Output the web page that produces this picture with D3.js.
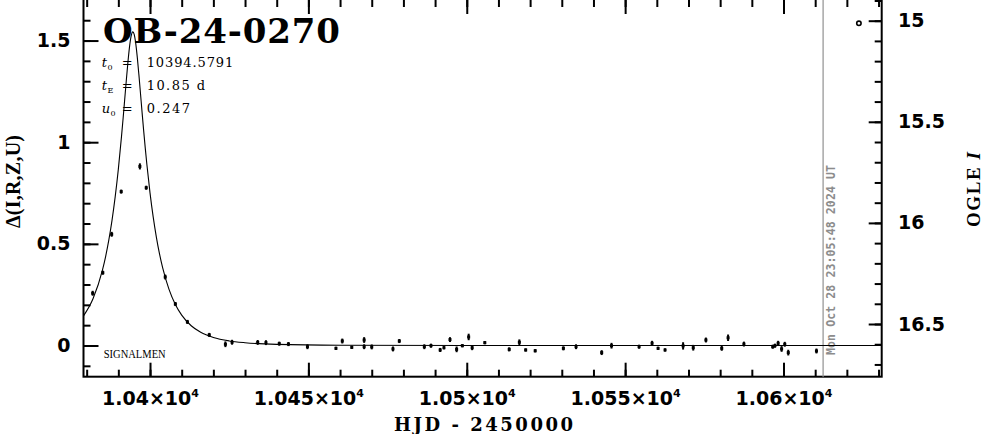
<!DOCTYPE html>
<html><head><meta charset="utf-8">
<script src="https://cdn.jsdelivr.net/npm/d3@7"></script>
<style>html,body{margin:0;padding:0;background:#fff;} svg{display:block}</style>
</head><body><svg id="c" width="986" height="434"></svg>
<script>
// ---- data ----
const hjd = [10381.9,10385.1,10387.9,10390.9,10396.8,10398.8,10404.8,10408.0,10411.8,10418.7,
  10423.8,10425.9,10434.0,10436.6,10440.8,10443.7,10449.7,10458.7,10460.7,10463.7,
  10467.6,10467.6,10470.0,10476.7,10478.7,10486.6,10488.7,10491.6,10492.8,10494.7,
  10496.8,10498.6,10500.6,10501.7,10505.7,10513.4,10516.6,10518.6,10521.6,10530.5,
  10534.5,10542.6,10545.7,10554.4,10558.5,10560.4,10562.6,10568.3,10571.5,10575.5,
  10580.5,10582.5,10587.5,10596.6,10597.3,10598.3,10599.4,10600.4,10601.5,10610.4];
const dmag = [0.257,0.358,0.547,0.757,0.881,0.776,0.337,0.204,0.116,0.052,
  0.006,0.016,0.015,0.014,0.009,0.007,-0.006,-0.014,0.022,-0.009,
  0.027,-0.006,-0.007,-0.017,0.022,-0.006,-0.001,-0.022,-0.011,0.029,
  -0.019,-0.001,0.042,-0.011,0.014,-0.019,0.016,-0.022,-0.026,-0.014,
  -0.006,-0.035,-0.001,-0.006,0.011,-0.014,-0.022,-0.002,-0.011,0.027,
  -0.014,0.038,0.007,-0.006,-0.001,0.011,-0.017,0.006,-0.035,-0.027];
const dmagErr = [0.012,0.010,0.012,0.010,0.015,0.010,0.012,0.010,0.010,0.010,
  0.014,0.012,0.012,0.012,0.010,0.010,0.012,0.008,0.012,0.008,
  0.014,0.012,0.012,0.012,0.010,0.012,0.010,0.010,0.008,0.012,
  0.014,0.008,0.016,0.012,0.008,0.010,0.014,0.008,0.008,0.010,
  0.012,0.012,0.014,0.010,0.012,0.008,0.008,0.018,0.014,0.012,
  0.012,0.016,0.012,0.010,0.010,0.012,0.014,0.012,0.014,0.012];
// model curve samples (t, delta mag)
const modelT = [10379.0,10382,10385,10386,10387,10388,10389,10390,10391,10391.5,10392,10392.5,10393,10393.5,
  10394,10394.58,10395,10395.5,10396,10396.5,10397,10397.5,10398,10398.5,10399,10400,10401,10402,10403,
  10404,10406,10408,10410,10413,10416,10420,10425,10430,10440,10460,10500,10631];
const modelD = [0.1457,0.2297,0.3717,0.4388,0.5191,0.6154,0.7308,0.8678,1.0284,1.1168,1.2086,1.3012,1.3891,1.4650,
  1.5190,1.5427,1.5300,1.4849,1.4149,1.3298,1.2380,1.1455,1.0559,0.9709,0.8917,0.7508,0.6323,0.5332,0.4505,
  0.3815,0.2758,0.2016,0.1491,0.0971,0.0649,0.0395,0.0225,0.0136,0.0057,0.0015,0.0002,0.0000];
const ogleT = [10623.8];
const ogleI = [15.013];
const nowT = [10612.5];
const nowLabel = "Mon Oct 28 23:05:48 2024 UT";
const xMajor = [10400,10450,10500,10550,10600];
const xMantissa = ["1.04","1.045","1.05","1.055","1.06"];
const yLeftMajor = [0,0.5,1,1.5];
const yLeftLabels = ["0","0.5","1","1.5"];
const yRightMajor = [15,15.5,16,16.5];
const yRightLabels = ["15","15.5","16","16.5"];
const title = "OB-24-0270";
const params = [["t","0","10394.5791"],["t","E","10.85 d"],["u","0","0.247"]];

// ---- layout ----
const X0 = 83.5, X1 = 881.7, Y0 = -1, Y1 = 376.7;
const svg = d3.select("#c");
const x = d3.scaleLinear().domain([10379.0, 10631.0]).range([X0, X1]);
const y = d3.scaleLinear().domain([-0.1535, 1.7044]).range([Y1, Y0]);
const yR = d3.scaleLinear().domain([16.7606, 14.8927]).range([Y1, Y0]);

const tickFont = "'DejaVu Sans', sans-serif";
function styleAxis(g){
  g.select(".domain").remove();
  g.selectAll(".tick line").attr("stroke","#000").attr("stroke-width",2);
  g.selectAll(".tick text").attr("fill","#000").attr("font-family",tickFont)
    .attr("font-weight","bold").attr("font-size",19);
}
const minorX = d3.range(10380, 10631, 10);
const minorY = d3.range(-0.1, 1.65, 0.1);
const minorYR = d3.range(14.9, 16.75, 0.1);

// bottom
svg.append("g").attr("transform",`translate(0,${Y1})`)
  .call(d3.axisBottom(x).tickValues(minorX).tickSize(-7).tickFormat("")).call(styleAxis);
const gb = svg.append("g").attr("transform",`translate(0,${Y1})`)
  .call(d3.axisBottom(x).tickValues(xMajor).tickSize(-14).tickPadding(0)).call(styleAxis);
gb.selectAll(".tick text").each(function(d,i){
  const t = d3.select(this).text(null).attr("y",28.3).attr("dy",0);
  t.append("tspan").text(xMantissa[i] + "×10");
  t.append("tspan").attr("dy",-8).attr("font-size",11).text("4");
});
// top
svg.append("g").attr("transform",`translate(0,${Y0})`)
  .call(d3.axisTop(x).tickValues(minorX).tickSize(-8).tickFormat("")).call(styleAxis);
svg.append("g").attr("transform",`translate(0,${Y0})`)
  .call(d3.axisTop(x).tickValues(xMajor).tickSize(-15).tickFormat("")).call(styleAxis);
// left
svg.append("g").attr("transform",`translate(${X0},0)`)
  .call(d3.axisLeft(y).tickValues(minorY).tickSize(-7).tickFormat("")).call(styleAxis);
svg.append("g").attr("transform",`translate(${X0},0)`)
  .call(d3.axisLeft(y).tickValues(yLeftMajor).tickSize(-15).tickPadding(13)
    .tickFormat((d,i)=>yLeftLabels[i])).call(styleAxis);
// right
svg.append("g").attr("transform",`translate(${X1},0)`)
  .call(d3.axisRight(yR).tickValues(minorYR).tickSize(-7).tickFormat("")).call(styleAxis);
svg.append("g").attr("transform",`translate(${X1},0)`)
  .call(d3.axisRight(yR).tickValues(yRightMajor).tickSize(-13).tickPadding(16.3)
    .tickFormat((d,i)=>yRightLabels[i])).call(styleAxis);

// frame
svg.append("rect").attr("x",X0).attr("y",Y0).attr("width",X1-X0).attr("height",Y1-Y0)
  .attr("fill","none").attr("stroke","#000").attr("stroke-width",2);

// now line
svg.selectAll(".now").data(nowT).enter().append("line")
  .attr("x1",d=>x(d)).attr("x2",d=>x(d)).attr("y1",Y0).attr("y2",Y1)
  .attr("stroke","#999").attr("stroke-width",1.3);
svg.append("text").attr("transform",`translate(${x(nowT[0])+12.2},355) rotate(-90)`)
  .attr("font-family","'DejaVu Sans Mono', monospace").attr("font-weight","bold")
  .attr("font-size",11.5).attr("fill","#8c8c8c")
  .attr("textLength",190).attr("lengthAdjust","spacing").text(nowLabel);

// model curve
const line = d3.line().x((d,i)=>x(modelT[i])).y(d=>y(d)).curve(d3.curveMonotoneX);
svg.append("path").datum(modelD).attr("d",line)
  .attr("fill","none").attr("stroke","#000").attr("stroke-width",1.1);

// data points
const pts = svg.append("g");
pts.selectAll("line").data(hjd).enter().append("line")
  .attr("x1",d=>x(d)).attr("x2",d=>x(d))
  .attr("y1",(d,i)=>y(dmag[i]-dmagErr[i])).attr("y2",(d,i)=>y(dmag[i]+dmagErr[i]))
  .attr("stroke","#000").attr("stroke-width",2);
pts.selectAll("rect").data(hjd).enter().append("rect")
  .attr("x",d=>x(d)-1.5).attr("y",(d,i)=>y(dmag[i])-1.5)
  .attr("width",3).attr("height",3).attr("fill","#000");

// OGLE last point
svg.selectAll(".ogle").data(ogleT).enter().append("circle")
  .attr("cx",d=>x(d)).attr("cy",(d,i)=>yR(ogleI[i])).attr("r",2.2)
  .attr("fill","#fff").attr("stroke","#000").attr("stroke-width",1.6);

// title
svg.append("text").attr("x",103).attr("y",43)
  .attr("font-family","'DejaVu Serif', serif").attr("font-weight","bold")
  .attr("font-size",34).attr("textLength",237).attr("lengthAdjust","spacing").text(title);

// parameters
const pFont = "'DejaVu Serif', serif";
const valLens = [86.6, 58.3, 43.3];
params.forEach((p,i)=>{
  const by = 66.7 + i*23;
  svg.append("text").attr("x",101.7).attr("y",by).attr("font-family",pFont)
    .attr("font-style","italic").attr("font-size",13).text(p[0]);
  svg.append("text").attr("x",p[0]==="u"?110.5:107.5).attr("y",by+3.3).attr("font-family",pFont)
    .attr("font-size",8).text(p[1]);
  svg.append("text").attr("x",121.7).attr("y",by).attr("font-family",pFont)
    .attr("font-size",13).text("=");
  svg.append("text").attr("x",146.7).attr("y",by).attr("font-family",pFont)
    .attr("font-size",13).attr("textLength",valLens[i]).attr("lengthAdjust","spacing").text(p[2]);
});

// SIGNALMEN
svg.append("text").attr("x",103.7).attr("y",358.3)
  .attr("font-family","'Liberation Serif', serif").attr("font-size",12)
  .attr("textLength",62).attr("lengthAdjust","spacingAndGlyphs").text("SIGNALMEN");

// axis titles
svg.append("text").attr("transform","translate(20,181.5) rotate(-90)")
  .attr("text-anchor","middle").attr("font-family","'Liberation Serif', serif")
  .attr("font-weight","bold").attr("font-size",20)
  .attr("textLength",93).attr("lengthAdjust","spacing").text("Δ(I,R,Z,U)");
svg.append("text").attr("x",394).attr("y",431)
  .attr("font-family","'DejaVu Serif', serif").attr("font-weight","bold").attr("font-size",18)
  .attr("textLength",179).attr("lengthAdjust","spacing").text("HJD - 2450000");
const rl = svg.append("text").attr("transform","translate(980,189.5) rotate(-90)")
  .attr("text-anchor","middle").attr("font-family","'Liberation Serif', serif")
  .attr("font-weight","bold").attr("font-size",19)
  .attr("textLength",75).attr("lengthAdjust","spacing");
rl.append("tspan").text("OGLE ");
rl.append("tspan").attr("font-style","italic").text("I");
</script></body></html>
